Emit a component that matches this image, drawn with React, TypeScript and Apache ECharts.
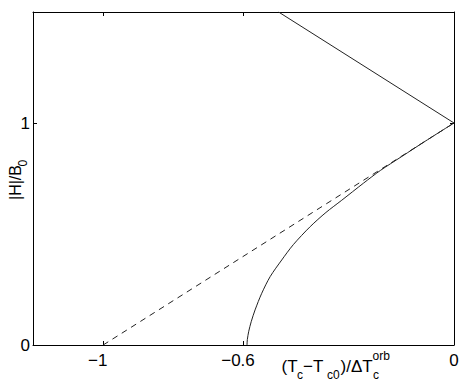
import React, { useEffect, useRef } from 'react';
import * as echarts from 'echarts';

// Tick values
const xTicks = [-1, -0.6, 0];
const yTicks = [0, 1];

// Curve (solid, starting near T = -0.6)
const curveT = [-0.59, -0.589, -0.585, -0.578, -0.567, -0.548, -0.524, -0.491, -0.458, -0.41, -0.365, -0.32, -0.258, -0.21, -0.15, -0.08, 0];
const curveH = [0, 0.025, 0.062, 0.105, 0.158, 0.233, 0.308, 0.383, 0.452, 0.533, 0.597, 0.652, 0.729, 0.786, 0.848, 0.92, 1];

// Dashed straight line
const dashedT = [-1, 0];
const dashedH = [0, 1];

// Upper solid straight line
const upperT = [-0.5, 0];
const upperH = [1.5, 1];

const FONT = "'Liberation Sans', Arial, Helvetica, sans-serif";

const zip = (a: number[], b: number[]) => a.map((v, i) => [v, b[i]]);

const fmtNum = (v: number) => (v < 0 ? '\u2212' + String(Math.abs(v)) : String(v));

export default function App() {
  const ref = useRef<HTMLDivElement>(null);

  useEffect(() => {
    if (!ref.current) return;
    const chart = echarts.init(ref.current, null, { renderer: 'svg' });

    const axisLineStyle = { color: '#000', width: 1 };
    const baseX = {
      type: 'value',
      min: -1.2,
      max: 0,
      splitLine: { show: false },
      axisLine: { show: true, onZero: false, lineStyle: axisLineStyle },
    };
    const baseY = {
      type: 'value',
      min: 0,
      max: 1.5,
      splitLine: { show: false },
      axisLine: { show: true, onZero: false, lineStyle: axisLineStyle },
    };

    const txt = (text: string, x: number, y: number, size: number) => ({
      type: 'text',
      x,
      y,
      style: {
        text,
        fontSize: size,
        fontFamily: FONT,
        fill: '#000',
        align: 'left',
        textAlign: 'left',
        verticalAlign: 'middle',
        textVerticalAlign: 'middle',
      },
    });

    const option: any = {
      animation: false,
      grid: { left: 33, right: 9, top: 12, bottom: 38 },
      xAxis: [
        {
          ...baseX,
          position: 'bottom',
          axisTick: { show: true, inside: true, length: 4, customValues: xTicks, lineStyle: { color: '#000' } },
          axisLabel: {
            show: true,
            customValues: xTicks,
            margin: 7,
            fontSize: 17,
            fontFamily: FONT,
            color: '#000',
            formatter: (v: number) => (v < 0 ? `{n|${fmtNum(v)}}` : `{z|${fmtNum(v)}}`),
            rich: {
              n: { fontSize: 17, fontFamily: FONT, color: '#000', padding: [0, 11, 0, 0] },
              z: { fontSize: 17, fontFamily: FONT, color: '#000' },
            },
          },
        },
        {
          ...baseX,
          position: 'top',
          axisTick: { show: true, inside: true, length: 4, customValues: xTicks, lineStyle: { color: '#000' } },
          axisLabel: { show: false },
        },
      ],
      yAxis: [
        {
          ...baseY,
          position: 'left',
          axisTick: { show: true, inside: true, length: 4, customValues: yTicks, lineStyle: { color: '#000' } },
          axisLabel: {
            show: true,
            customValues: yTicks,
            margin: 3,
            fontSize: 17,
            fontFamily: FONT,
            color: '#000',
            formatter: (v: number) => fmtNum(v),
          },
        },
        {
          ...baseY,
          position: 'right',
          axisTick: { show: true, inside: true, length: 4, customValues: yTicks, lineStyle: { color: '#000' } },
          axisLabel: { show: false },
        },
      ],
      series: [
        {
          type: 'line',
          data: zip(upperT, upperH),
          symbol: 'none',
          lineStyle: { color: '#222', width: 1 },
          z: 3,
        },
        {
          type: 'line',
          data: zip(dashedT, dashedH),
          symbol: 'none',
          lineStyle: { color: '#222', width: 1, type: [6, 5] },
          z: 3,
        },
        {
          type: 'line',
          data: zip(curveT, curveH),
          symbol: 'none',
          smooth: 0.3,
          lineStyle: { color: '#222', width: 1 },
          z: 3,
        },
      ],
      graphic: [
        // x axis title: (T_c − T_c0)/ΔT_c^orb
        txt('(T', 281.5, 366.1, 17),
        txt('c', 297, 375.3, 12),
        txt('\u2212T', 303, 366.1, 17),
        txt('c0', 327, 375.3, 12),
        txt(')/\u0394T', 340.5, 366.1, 17),
        txt('orb', 372.5, 356.3, 12),
        txt('c', 373, 375.3, 12),
        // y axis title: |H|/B_0 (rotated)
        {
          type: 'group',
          x: 21,
          y: 200,
          rotation: Math.PI / 2,
          children: [
            txt('|H|/B', 0, -5.5, 16),
            txt('0', 33.5, 1.8, 12),
          ],
        },
      ],
    };

    chart.setOption(option);
    return () => chart.dispose();
  }, []);

  return (
    <div
      ref={ref}
      style={{ position: 'fixed', left: 0, top: 0, width: 463, height: 383, background: '#fff' }}
    />
  );
}
